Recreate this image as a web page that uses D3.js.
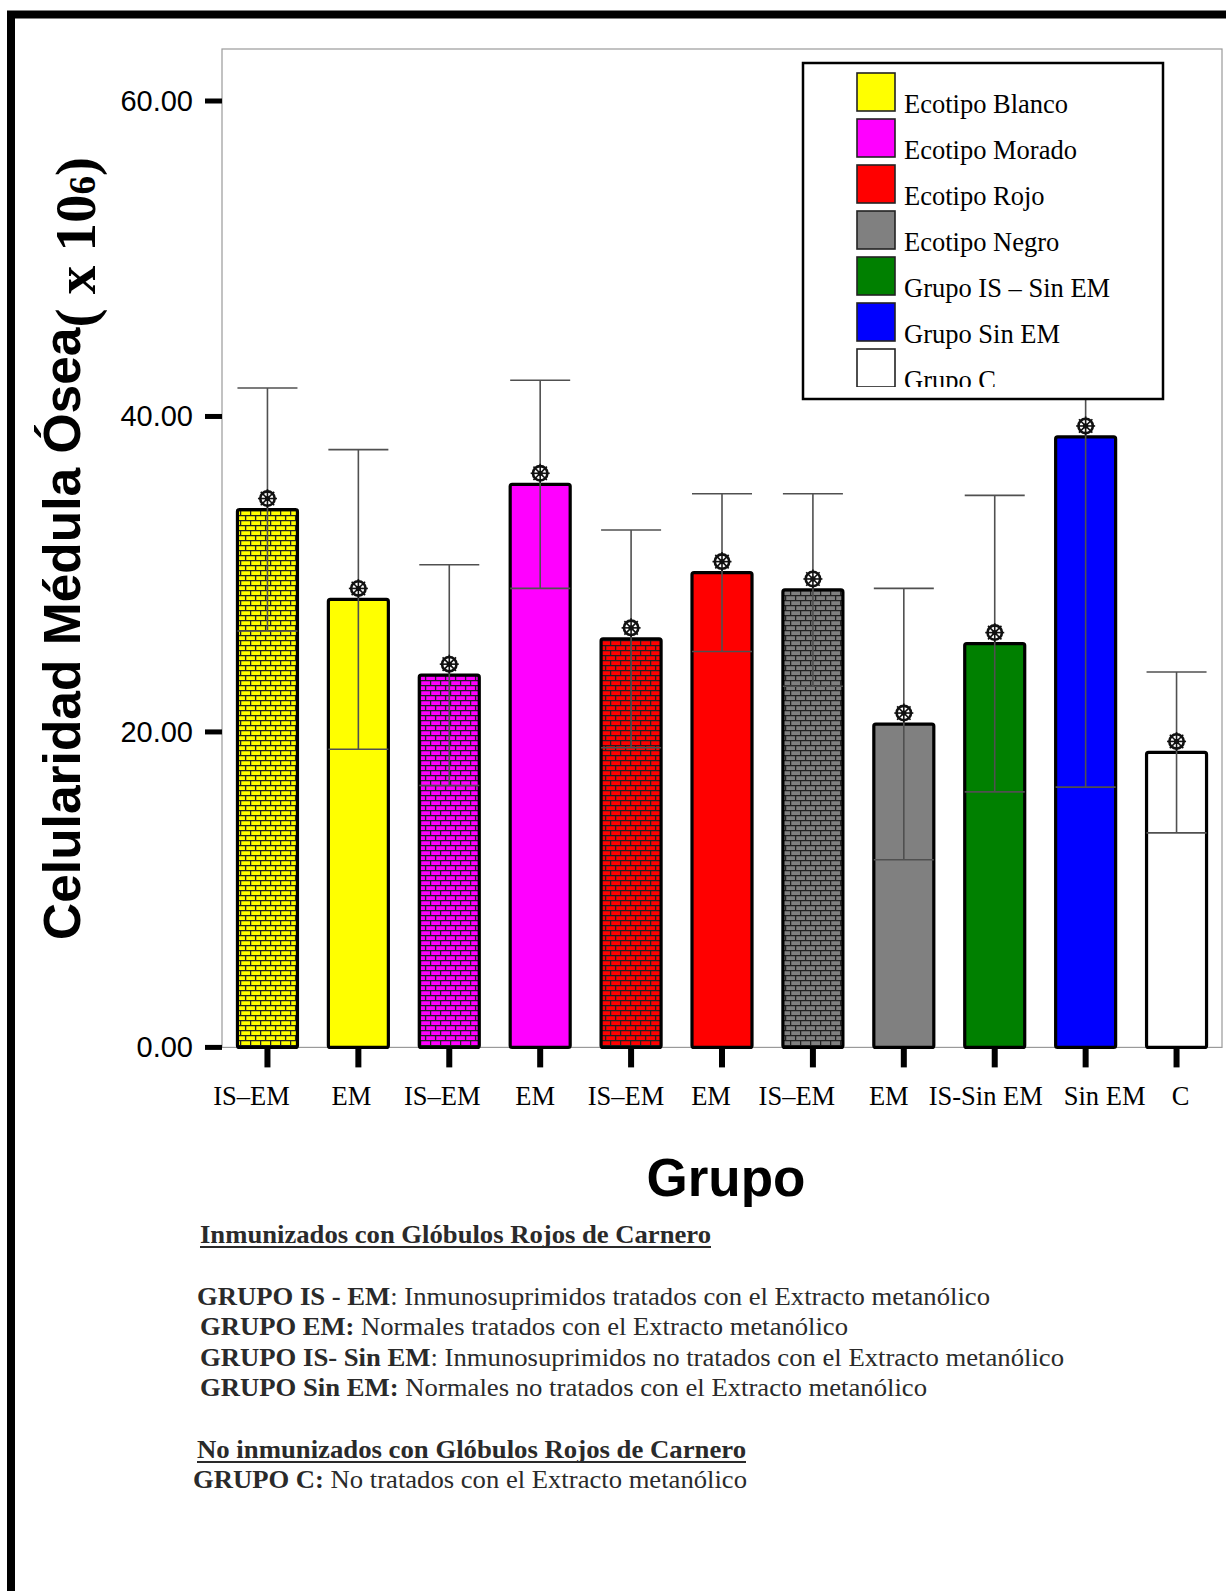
<!DOCTYPE html>
<meta charset="utf-8">
<script src="https://d3js.org/d3.v7.min.js"></script>
<style>
  body { margin: 0; background: #fff; }
  svg { display: block; }
</style>
<body>
<div id="chart"></div>
<script>
// bar labels, one per group
var labels = ["IS\u2013EM", "EM", "IS\u2013EM", "EM", "IS\u2013EM", "EM", "IS\u2013EM", "EM", "IS-Sin EM", "Sin EM", "C"];
// legend entry each bar belongs to
var series = ["Ecotipo Blanco", "Ecotipo Blanco", "Ecotipo Morado", "Ecotipo Morado", "Ecotipo Rojo", "Ecotipo Rojo",
              "Ecotipo Negro", "Ecotipo Negro", "Grupo IS \u2013 Sin EM", "Grupo Sin EM", "Grupo C"];
// mean bone marrow cellularity (x 10^6)
var means = [34.1, 28.4, 23.6, 35.7, 25.9, 30.1, 29.0, 20.5, 25.6, 38.7, 18.7];
// half width of the error bars
var errs = [7.7, 9.5, 7.0, 6.6, 6.9, 5.0, 6.1, 8.6, 9.4, 22.2, 5.1];
var yTicks = [0, 20, 40, 60];

var legendNames = ["Ecotipo Blanco", "Ecotipo Morado", "Ecotipo Rojo", "Ecotipo Negro", "Grupo IS \u2013 Sin EM", "Grupo Sin EM", "Grupo C"];
var legendColors = ["#ffff00", "#ff00ff", "#ff0000", "#808080", "#008000", "#0000ff", "#ffffff"];

var notes = [
  {b: "GRUPO IS - EM", t: ": Inmunosuprimidos tratados con el Extracto metan\u00f3lico"},
  {b: "GRUPO EM:", t: " Normales tratados con el Extracto metan\u00f3lico"},
  {b: "GRUPO IS- Sin EM", t: ": Inmunosuprimidos no tratados con el Extracto metan\u00f3lico"},
  {b: "GRUPO Sin EM:", t: " Normales no tratados con el Extracto metan\u00f3lico"}
];

var W = 1226, H = 1591;
var svg = d3.select("#chart").append("svg").attr("width", W).attr("height", H);

var color = d3.scaleOrdinal().domain(legendNames).range(legendColors);

var x = d3.scaleBand()
  .domain(d3.range(labels.length))
  .range([222, 1222])
  .paddingInner(0.34)
  .paddingOuter(0.17);

var y = d3.scaleLinear().domain([0, 60]).range([1047.4, 101]);

// the labels under the bars are not quite centred in the original
var labelShift = [-16, -7, -7, -5, -5, -11, -16, -15, -9, 19, 4];

// brick patterns for IS-EM bars
var defs = svg.append("defs");
legendColors.slice(0, 4).forEach(function(c, i) {
  var p = defs.append("pattern")
    .attr("id", "brick" + i)
    .attr("patternUnits", "userSpaceOnUse")
    .attr("width", 10).attr("height", 10);
  p.append("rect").attr("width", 10).attr("height", 10).attr("fill", c);
  p.append("path")
    .attr("d", "M0,0.6H10M0,5.6H10M0.6,0V5.6M5.6,5.6V10")
    .attr("stroke", "#222").attr("stroke-width", 1.3).attr("fill", "none");
});
defs.append("clipPath").attr("id", "legclip")
  .append("rect").attr("x", 803).attr("y", 63).attr("width", 360).attr("height", 324);

// outer frame
svg.append("path")
  .attr("d", "M11," + (H + 10) + "V14.5H" + (W + 10))
  .attr("fill", "none").attr("stroke", "#000").attr("stroke-width", 8);

// plot box
svg.append("rect")
  .attr("x", 222).attr("y", 49)
  .attr("width", 1000).attr("height", y(0) - 49)
  .attr("fill", "none").attr("stroke", "#9a9a9a").attr("stroke-width", 1.2);

// y ticks
svg.selectAll(".ytick").data(yTicks).enter().append("rect")
  .attr("x", 205).attr("y", d => y(d) - 2.5)
  .attr("width", 17).attr("height", 5).attr("fill", "#000");
svg.selectAll(".ylab").data(yTicks).enter().append("text")
  .attr("x", 193).attr("y", d => y(d) + 10)
  .attr("text-anchor", "end")
  .style("font-family", "Liberation Sans, Arial, sans-serif")
  .style("font-size", "29px")
  .text(d => d.toFixed(2));

// x ticks
svg.selectAll(".xtick").data(labels).enter().append("rect")
  .attr("x", (d, i) => x(i) + x.bandwidth() / 2 - 3)
  .attr("y", y(0)).attr("width", 6).attr("height", 20).attr("fill", "#000");
svg.selectAll(".xlab").data(labels).enter().append("text")
  .attr("x", (d, i) => x(i) + x.bandwidth() / 2 + labelShift[i])
  .attr("y", 1105)
  .attr("text-anchor", "middle")
  .style("font-family", "Liberation Serif, Times New Roman, serif")
  .style("font-size", "26.5px")
  .text(d => d);

// bars
svg.selectAll(".bar").data(means).enter().append("rect")
  .attr("x", (d, i) => x(i))
  .attr("y", d => y(d))
  .attr("width", x.bandwidth())
  .attr("height", d => y(0) - y(d))
  .attr("rx", 2)
  .attr("fill", function(d, i) {
    if (labels[i] === "IS\u2013EM") return "url(#brick" + legendNames.indexOf(series[i]) + ")";
    return color(series[i]);
  })
  .attr("stroke", "#000").attr("stroke-width", 3.2);

// error bars
var eb = svg.selectAll(".err").data(means).enter().append("g")
  .attr("stroke", "#505050").attr("stroke-width", 1.6).attr("fill", "none");
eb.append("line")
  .attr("x1", (d, i) => x(i) + x.bandwidth() / 2).attr("x2", (d, i) => x(i) + x.bandwidth() / 2)
  .attr("y1", (d, i) => y(d - errs[i])).attr("y2", (d, i) => y(d + errs[i]));
eb.append("line")
  .attr("x1", (d, i) => x(i)).attr("x2", (d, i) => x(i) + x.bandwidth())
  .attr("y1", (d, i) => y(d + errs[i])).attr("y2", (d, i) => y(d + errs[i]));
eb.append("line")
  .attr("x1", (d, i) => x(i)).attr("x2", (d, i) => x(i) + x.bandwidth())
  .attr("y1", (d, i) => y(d - errs[i])).attr("y2", (d, i) => y(d - errs[i]));

// wheel markers on top of the bars
var mk = svg.selectAll(".mk").data(means).enter().append("g")
  .attr("transform", (d, i) => "translate(" + (x(i) + x.bandwidth() / 2) + "," + (y(d) - 11) + ")")
  .attr("stroke", "#111").attr("fill", "none");
mk.append("circle").attr("r", 7.2).attr("stroke-width", 2.6).attr("fill", "#fff");
mk.append("circle").attr("r", 2).attr("stroke-width", 1.3);
[0, 45, 90, 135].forEach(function(a) {
  mk.append("line")
    .attr("x1", -9.5).attr("x2", 9.5).attr("y1", 0).attr("y2", 0)
    .attr("stroke-width", 1.6)
    .attr("transform", "rotate(" + a + ")");
});

// legend
svg.append("rect")
  .attr("x", 803).attr("y", 63).attr("width", 360).attr("height", 336)
  .attr("fill", "#fff").attr("stroke", "#000").attr("stroke-width", 2.5);
var lg = svg.append("g").attr("clip-path", "url(#legclip)");
var li = lg.selectAll(".li").data(legendNames).enter().append("g")
  .attr("transform", (d, i) => "translate(857," + (73 + i * 46) + ")");
li.append("rect").attr("width", 38).attr("height", 38)
  .attr("fill", d => color(d)).attr("stroke", "#222").attr("stroke-width", 1.6);
li.append("text").attr("x", 47).attr("y", 40)
  .style("font-family", "Liberation Serif, Times New Roman, serif")
  .style("font-size", "26.5px")
  .text(d => d);

// axis titles
var yt = svg.append("text")
  .attr("transform", "translate(80,940) rotate(-90)")
  .style("font-weight", "bold");
yt.append("tspan").style("font-family", "Liberation Sans, Arial, sans-serif").style("font-size", "51.5px")
  .text("Celularidad M\u00e9dula \u00d3sea");
yt.append("tspan").attr("dy", 15).style("font-family", "Liberation Serif, Times New Roman, serif").style("font-size", "57px")
  .text("( x 10");
yt.append("tspan").style("font-family", "Liberation Serif, Times New Roman, serif").style("font-size", "37px")
  .text("6");
yt.append("tspan").style("font-family", "Liberation Serif, Times New Roman, serif").style("font-size", "57px")
  .text(")");

svg.append("text")
  .attr("x", 726).attr("y", 1196)
  .attr("text-anchor", "middle")
  .style("font-family", "Liberation Sans, Arial, sans-serif")
  .style("font-size", "53px").style("font-weight", "bold")
  .text("Grupo");

// notes
var serif = "Liberation Serif, Times New Roman, serif";
function heading(txt, xx, yy, len) {
  svg.append("text").attr("x", xx).attr("y", yy)
    .attr("textLength", len).attr("lengthAdjust", "spacingAndGlyphs")
    .style("font-family", serif).style("font-size", "26px").style("font-weight", "bold")
    .attr("fill", "#2a2a2a").text(txt);
  svg.append("line").attr("x1", xx).attr("x2", xx + len).attr("y1", yy + 4).attr("y2", yy + 4)
    .attr("stroke", "#2a2a2a").attr("stroke-width", 2.2);
}
function note(n, xx, yy, len) {
  var t = svg.append("text").attr("x", xx).attr("y", yy)
    .attr("textLength", len).attr("lengthAdjust", "spacingAndGlyphs")
    .style("font-family", serif).style("font-size", "26px").attr("fill", "#2a2a2a");
  t.append("tspan").style("font-weight", "bold").text(n.b);
  t.append("tspan").text(n.t);
}
heading("Inmunizados con Gl\u00f3bulos Rojos de Carnero", 200, 1243, 511);
note(notes[0], 197, 1305, 793);
note(notes[1], 200, 1335, 648);
note(notes[2], 200, 1366, 864);
note(notes[3], 200, 1396, 727);
heading("No inmunizados con Gl\u00f3bulos Rojos de Carnero", 197, 1458, 549);
note({b: "GRUPO C:", t: " No tratados con el Extracto metan\u00f3lico"}, 193, 1488, 554);
</script>
</body>
